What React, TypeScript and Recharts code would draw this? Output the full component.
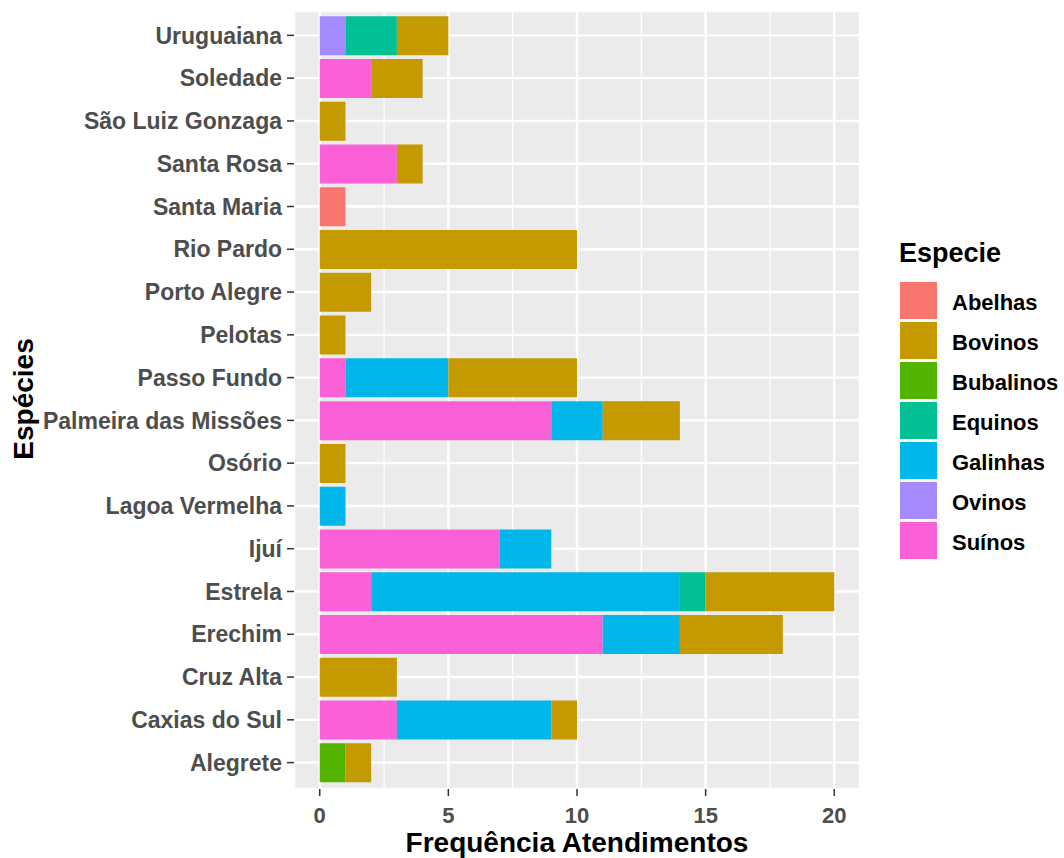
import React from 'react';
import { BarChart, Bar, XAxis, YAxis, CartesianGrid } from 'recharts';

// cities in alphabetical order (drawn bottom to top)
const cidades = [
  'Alegrete', 'Caxias do Sul', 'Cruz Alta', 'Erechim', 'Estrela', 'Ijuí',
  'Lagoa Vermelha', 'Osório', 'Palmeira das Missões', 'Passo Fundo', 'Pelotas',
  'Porto Alegre', 'Rio Pardo', 'Santa Maria', 'Santa Rosa', 'São Luiz Gonzaga',
  'Soledade', 'Uruguaiana',
];

const especies = ['Abelhas', 'Bovinos', 'Bubalinos', 'Equinos', 'Galinhas', 'Ovinos', 'Suínos'];
const cores = ['#F8766D', '#C49A00', '#53B400', '#00C094', '#00B6EB', '#A58AFF', '#FB61D7'];

const abelhas = [0, 0, 0, 0, 0, 0, 0, 0, 0, 0, 0, 0, 0, 1, 0, 0, 0, 0];
const bovinos = [1, 1, 3, 4, 5, 0, 0, 1, 3, 5, 1, 2, 10, 0, 1, 1, 2, 2];
const bubalinos = [1, 0, 0, 0, 0, 0, 0, 0, 0, 0, 0, 0, 0, 0, 0, 0, 0, 0];
const equinos = [0, 0, 0, 0, 1, 0, 0, 0, 0, 0, 0, 0, 0, 0, 0, 0, 0, 2];
const galinhas = [0, 6, 0, 3, 12, 2, 1, 0, 2, 4, 0, 0, 0, 0, 0, 0, 0, 0];
const ovinos = [0, 0, 0, 0, 0, 0, 0, 0, 0, 0, 0, 0, 0, 0, 0, 0, 0, 1];
const suinos = [0, 3, 0, 11, 2, 7, 0, 0, 9, 1, 0, 0, 0, 0, 3, 0, 2, 0];

const xTicks = [0, 5, 10, 15, 20];
const xMinor = [2.5, 7.5, 12.5, 17.5];

const valores = [abelhas, bovinos, bubalinos, equinos, galinhas, ovinos, suinos];
// ggplot stacks the last level first (leftmost)
const ordemPilha = ['Suínos', 'Ovinos', 'Galinhas', 'Equinos', 'Bubalinos', 'Bovinos', 'Abelhas'];

const data = cidades.map((cidade, i) => {
  const row: any = { cidade };
  especies.forEach((e, j) => { row[e] = valores[j][i]; });
  return row;
});

const font = '"Liberation Sans", Arial, sans-serif';
const xTickStyle = { fill: '#4D4D4D', fontSize: 22, fontWeight: 'bold', fontFamily: font };
const yTickStyle = { fill: '#4D4D4D', fontSize: 23, fontWeight: 'bold', fontFamily: font };

const App = () => {
  return (
    <div style={{ position: 'absolute', left: 0, top: 0, width: 1064, height: 858, background: '#fff' }}>
      <BarChart
        width={870}
        height={858}
        data={data}
        layout="vertical"
        margin={{ top: 11, right: 10, bottom: 0, left: 0 }}
        barCategoryGap="5%"
      >
        <CartesianGrid fill="#EBEBEB" horizontal={false} verticalValues={xMinor} stroke="#fff" strokeWidth={1.2} />
        <CartesianGrid stroke="#fff" strokeWidth={2.4} />
        <XAxis
          type="number"
          domain={[-1, 21]}
          ticks={xTicks}
          axisLine={false}
          tickLine={{ stroke: '#333', strokeWidth: 1.5 }}
          tickSize={7}
          tickMargin={11}
          height={69}
          tick={xTickStyle}
        />
        <YAxis
          type="category"
          dataKey="cidade"
          reversed
          width={294}
          interval={0}
          padding={{ top: 3, bottom: 5 }}
          axisLine={false}
          tickLine={{ stroke: '#333', strokeWidth: 1.5 }}
          tickSize={7}
          tickMargin={5}
          tick={yTickStyle}
        />
        {ordemPilha.map((e) => (
          <Bar key={e} dataKey={e} stackId="a" fill={cores[especies.indexOf(e)]} isAnimationActive={false} />
        ))}
      </BarChart>
      <svg
        width={1064}
        height={858}
        style={{ position: 'absolute', left: 0, top: 0, pointerEvents: 'none' }}
        fontFamily={font}
        fontWeight="bold"
      >
        <text x={577} y={852} textAnchor="middle" fontSize={28} fill="#000">Frequência Atendimentos</text>
        <text transform="translate(33,399) rotate(-90)" textAnchor="middle" fontSize={28} fill="#000">Espécies</text>
        <text x={899} y={262} fontSize={27} fill="#000">Especie</text>
        {especies.map((e, i) => (
          <g key={e}>
            <rect x={900} y={282 + 40 * i} width={37} height={37} fill={cores[i]} />
            <text x={952} y={300 + 40 * i + 10} fontSize={22} fill="#000">{e}</text>
          </g>
        ))}
      </svg>
    </div>
  );
};

export default App;
